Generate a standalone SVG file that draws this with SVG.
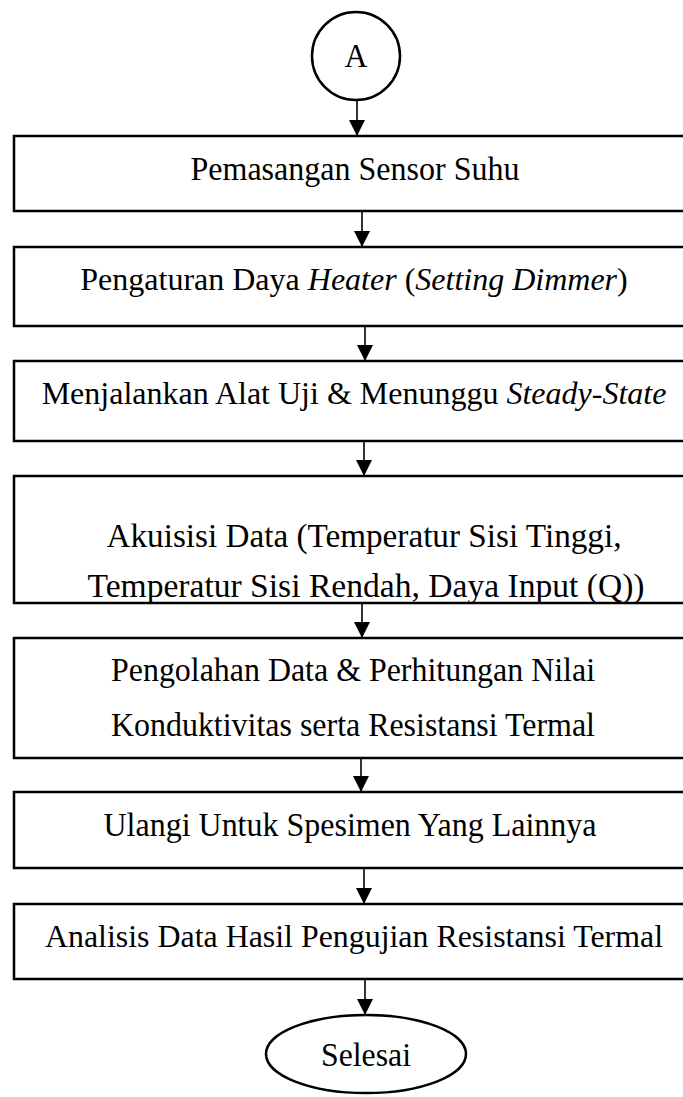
<svg xmlns="http://www.w3.org/2000/svg" width="683" height="1097" viewBox="0 0 683 1097">
<style>
.box{fill:#fff;stroke:#000;stroke-width:2.5}
.t{font-family:"Liberation Serif","Times New Roman",serif;font-size:34px;fill:#000;text-anchor:middle}
.i{font-style:italic}
.c{stroke:#000;stroke-width:1.6;fill:none;marker-end:url(#ah)}
</style>
<defs>
<marker id="ah" markerUnits="userSpaceOnUse" markerWidth="16" markerHeight="16" viewBox="0 0 16 16" refX="16" refY="8" orient="auto">
<path d="M0,0 L16,8 L0,16 Z" fill="#000"/>
</marker>
</defs>
<g id="connectors">
<line class="c" x1="357" y1="99" x2="357" y2="136"/>
<line class="c" x1="362" y1="211" x2="362" y2="247"/>
<line class="c" x1="365" y1="326" x2="365" y2="361"/>
<line class="c" x1="364" y1="441" x2="364" y2="476"/>
<line class="c" x1="362" y1="603" x2="362" y2="638"/>
<line class="c" x1="361" y1="758" x2="361" y2="792"/>
<line class="c" x1="364" y1="868" x2="364" y2="904"/>
<line class="c" x1="365" y1="979" x2="365" y2="1015"/>
</g>
<g id="start">
<circle cx="356" cy="56" r="44" fill="#fff" stroke="#000" stroke-width="2.5"/>
<text class="t" x="356" y="67" textLength="23" lengthAdjust="spacingAndGlyphs">A</text>
</g>
<g id="n1">
<rect class="box" x="14" y="136" width="680" height="75"/>
<text class="t" x="355" y="180" textLength="329" lengthAdjust="spacingAndGlyphs">Pemasangan Sensor Suhu</text>
</g>
<g id="n2">
<rect class="box" x="14" y="247" width="680" height="79"/>
<text class="t" x="354" y="290" style="font-size:32px">Pengaturan Daya <tspan class="i">Heater</tspan> (<tspan class="i">Setting Dimmer</tspan>)</text>
</g>
<g id="n3">
<rect class="box" x="14" y="361" width="680" height="80"/>
<text class="t" x="354" y="404" style="font-size:32px">Menjalankan Alat Uji &amp; Menunggu <tspan class="i">Steady-State</tspan></text>
</g>
<g id="n4">
<rect class="box" x="14" y="476" width="680" height="127"/>
<text class="t" x="364" y="547" textLength="515" lengthAdjust="spacingAndGlyphs">Akuisisi Data (Temperatur Sisi Tinggi,</text>
<text class="t" x="366" y="597" textLength="557" lengthAdjust="spacingAndGlyphs">Temperatur Sisi Rendah, Daya Input (Q))</text>
</g>
<g id="n5">
<rect class="box" x="14" y="638" width="680" height="120"/>
<text class="t" x="353" y="681" textLength="484" lengthAdjust="spacingAndGlyphs">Pengolahan Data &amp; Perhitungan Nilai</text>
<text class="t" x="353" y="736" textLength="484" lengthAdjust="spacingAndGlyphs">Konduktivitas serta Resistansi Termal</text>
</g>
<g id="n6">
<rect class="box" x="14" y="792" width="680" height="76"/>
<text class="t" x="350" y="836" textLength="493" lengthAdjust="spacingAndGlyphs">Ulangi Untuk Spesimen Yang Lainnya</text>
</g>
<g id="n7">
<rect class="box" x="14" y="904" width="680" height="75"/>
<text class="t" x="354" y="947" style="font-size:32px" textLength="618" lengthAdjust="spacingAndGlyphs">Analisis Data Hasil Pengujian Resistansi Termal</text>
</g>
<g id="end">
<ellipse cx="366" cy="1054" rx="100" ry="39" fill="#fff" stroke="#000" stroke-width="2.5"/>
<text class="t" x="366" y="1066" textLength="90" lengthAdjust="spacingAndGlyphs">Selesai</text>
</g>
</svg>
